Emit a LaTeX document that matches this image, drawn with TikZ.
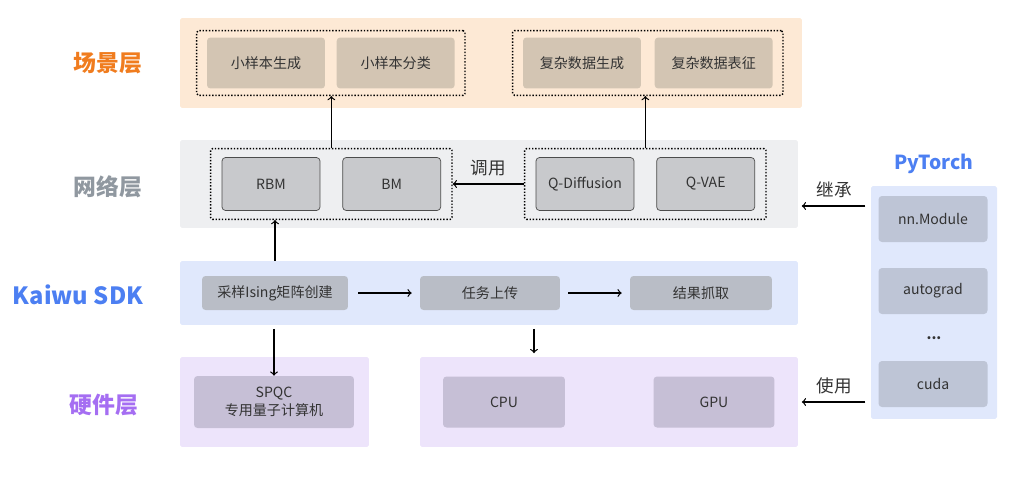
\documentclass[tikz,border=0pt]{standalone}
\usepackage{fontspec}
\setmainfont{Noto Sans CJK SC}
\usepackage{tikz}
\usetikzlibrary{positioning,fit}
\definecolor{SceneBg}{HTML}{FDE9D5}
\definecolor{SceneBox}{HTML}{D3C5B3}
\definecolor{NetBg}{HTML}{EEEFF1}
\definecolor{NetBox}{HTML}{C8C9CC}
\definecolor{SdkBg}{HTML}{E0E8FC}
\definecolor{SdkBox}{HTML}{B9BDC6}
\definecolor{HwBg}{HTML}{EDE4FB}
\definecolor{HwBox}{HTML}{C6BFD6}
\definecolor{PtBox}{HTML}{BEC5D6}
\definecolor{TxtGray}{HTML}{333333}
\definecolor{LOrange}{HTML}{F07C1E}
\definecolor{LGray}{HTML}{9098A0}
\definecolor{LBlue}{HTML}{4C7FF2}
\definecolor{LPurple}{HTML}{A56EF2}

\begin{document}
\begin{tikzpicture}[x=0.02cm, y=-0.02cm,
  every node/.style={align=center, text=TxtGray, font=\fontsize{8}{10}\selectfont},
  bg/.style={inner sep=0pt, rounded corners=1pt},
  box/.style={rounded corners=2pt, inner sep=0pt},
  grp/.style={draw=black, densely dotted, line width=0.8pt, rounded corners=1pt},
  layer/.style={font=\fontsize{13}{15}\selectfont\bfseries},
  lnk/.style={->, line width=0.7pt, black}]
\useasboundingbox (0,0) rectangle (1014,477);

% backgrounds
\node[bg, fill=SceneBg, minimum width=12.44cm, minimum height=1.8cm] (bgA) at (491,63) {};
\node[bg, fill=NetBg, minimum width=12.36cm, minimum height=1.76cm] (bgB) at (489,184) {};
\node[bg, fill=SdkBg, minimum width=12.36cm, minimum height=1.28cm] (bgC) at (489,293) {};
\node[bg, fill=HwBg, minimum width=3.78cm, minimum height=1.8cm] (bgD1) at (274.5,402) {};
\node[bg, fill=HwBg, minimum width=7.56cm, minimum height=1.8cm] (bgD2) at (609,402) {};
\node[bg, fill=SdkBg, minimum width=2.52cm, minimum height=4.66cm] (bgP) at (934,302.5) {};

% layer titles
\node[layer, text=LOrange] (tA) at (108,63) {场景层};
\node[layer, text=LGray] (tB) at (108,187) {网络层};
\node[layer, text=LBlue, font=\fontsize{13.5}{16}\selectfont\bfseries] (tC) at (78,295) {Kaiwu SDK};
\node[layer, text=LBlue, font=\fontsize{11}{14}\selectfont\bfseries] (tP) at (934,164) {PyTorch};
\node[layer, text=LPurple] (tD) at (104,405) {硬件层};

% scene layer
\node[box, fill=SceneBox, minimum width=2.36cm, minimum height=1.02cm] (s1) at (266,63) {小样本生成};
\node[box, fill=SceneBox, minimum width=2.36cm, minimum height=1.02cm, right=0.22cm of s1] (s2) {小样本分类};
\node[box, fill=SceneBox, minimum width=2.36cm, minimum height=1.02cm] (s3) at (582,63) {复杂数据生成};
\node[box, fill=SceneBox, minimum width=2.36cm, minimum height=1.02cm, right=0.26cm of s3] (s4) {复杂数据表征};
\node[grp, inner xsep=0.2cm, inner ysep=0.13cm, fit=(s1)(s2)] (gA1) {};
\node[grp, inner xsep=0.2cm, inner ysep=0.13cm, fit=(s3)(s4)] (gA2) {};

% network layer
\node[box, draw=black!70, fill=NetBox, minimum width=1.96cm, minimum height=1.06cm] (n1) at (271,184) {RBM};
\node[box, draw=black!70, fill=NetBox, minimum width=1.96cm, minimum height=1.06cm, right=0.44cm of n1] (n2) {BM};
\node[box, draw=black!70, fill=NetBox, minimum width=1.96cm, minimum height=1.06cm] (n3) at (585,184) {Q-Diffusion};
\node[box, draw=black!70, fill=NetBox, minimum width=1.96cm, minimum height=1.06cm, right=0.44cm of n3] (n4) {Q-VAE};
\node[grp, inner xsep=0.22cm, inner ysep=0.17cm, fit=(n1)(n2)] (gB1) {};
\node[grp, inner xsep=0.22cm, inner ysep=0.17cm, fit=(n3)(n4)] (gB2) {};

% Kaiwu SDK
\node[box, fill=SdkBox, minimum width=2.92cm, minimum height=0.68cm] (k1) at (275,293) {采样Ising矩阵创建};
\node[box, fill=SdkBox, minimum width=2.8cm, minimum height=0.68cm] (k2) at (490,293) {任务上传};
\node[box, fill=SdkBox, minimum width=2.84cm, minimum height=0.68cm] (k3) at (701,293) {结果抓取};

% hardware
\node[box, fill=HwBox, minimum width=3.2cm, minimum height=1.04cm] (h1) at (274,402) {SPQC\\专用量子计算机};
\node[box, fill=HwBox, minimum width=2.44cm, minimum height=1.02cm] (h2) at (504,402) {CPU};
\node[box, fill=HwBox, minimum width=2.42cm, minimum height=1.02cm] (h3) at (714,402) {GPU};

% pytorch
\node[box, fill=PtBox, minimum width=2.18cm, minimum height=0.92cm] (p1) at (933,219) {nn.Module};
\node[box, fill=PtBox, minimum width=2.18cm, minimum height=0.92cm] (p2) at (933,291) {autograd};
\node (p3) at (934,338) {\textbf{...}};
\node[box, fill=PtBox, minimum width=2.18cm, minimum height=0.92cm] (p4) at (933,384) {cuda};

% links
\coordinate (c1) at (0,206);
\coordinate (c2) at (534,0);
\draw[lnk] (gB1.north) -- (gB1.north |- gA1.south);
\draw[lnk] (gB2.north) -- (gB2.north |- gA2.south);
\draw[lnk] (gB2.west) -- node[above=1pt, font=\fontsize{10}{12}\selectfont] {调用} (gB1.east);
\draw[lnk] (bgC.north -| k1) -- (gB1.south -| k1);
\draw[lnk, shorten <=0.2cm, shorten >=0.16cm] (k1) -- (k2);
\draw[lnk, shorten <=0.16cm, shorten >=0.16cm] (k2) -- (k3);
\draw[lnk, shorten <=2pt] (bgC.south -| h1) -- (h1.north);
\draw[lnk, shorten <=2pt, shorten >=2pt] (bgC.south -| c2) -- (bgD2.north -| c2);
\draw[lnk, shorten <=3pt, shorten >=2pt] (bgP.west |- c1) -- node[above=1pt, font=\fontsize{10}{12}\selectfont] {继承} (bgB.east |- c1);
\draw[lnk, shorten <=3pt, shorten >=2pt] (bgP.west |- bgD2) -- node[above=1pt, font=\fontsize{10}{12}\selectfont] {使用} (bgD2.east);
\end{tikzpicture}
\end{document}
